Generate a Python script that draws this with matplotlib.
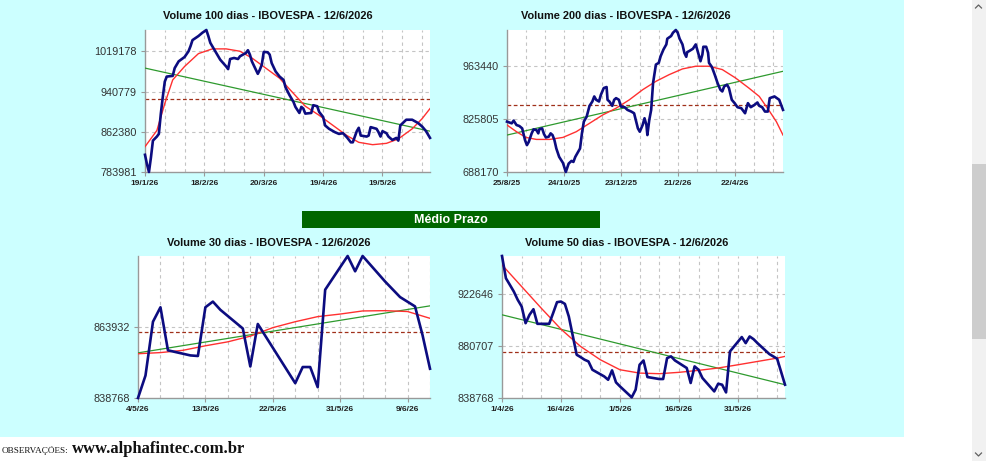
import matplotlib
matplotlib.use("Agg")
import matplotlib.pyplot as plt
from matplotlib.patches import Rectangle
from matplotlib.lines import Line2D
import numpy as np
import pandas as pd

W, H = 987, 461

# ---- data (values in thousands) ----
# Volume 100 dias
start_100 = "2026-01-19"
days_100 = [0, 1, 2, 3, 4, 6, 7, 8, 9, 10, 11, 14, 15, 17, 20, 22, 23, 24, 27, 29,
            31, 32, 33, 36, 38, 41, 42, 43, 45, 47, 48, 51, 52, 53, 54, 57, 58, 59, 60, 62,
            63, 64, 66, 68, 70, 71, 73, 75, 76, 78, 79, 80, 81, 84, 85, 87, 88, 90, 91, 93,
            96, 98, 100, 102, 104, 105, 107, 108, 109, 112, 113, 114, 117, 118, 119, 120, 122, 123, 125, 127,
            128, 129, 132, 135, 138, 140, 142, 144]
vol_100 = [817.5, 799.1, 784.0, 812.3, 845.1, 853.0, 858.2, 897.7, 930.5, 960.1,
           969.9, 971.2, 986.4, 999.5, 1008.0, 1019.2, 1029.1, 1040.9, 1048.8, 1055.3,
           1060.6, 1048.8, 1035.6, 1015.9, 1002.8, 989.6, 984.4, 1004.1, 1006.1, 1004.1,
           1009.4, 1015.9, 1021.2, 1012.6, 999.5, 975.2, 983.1, 992.9, 1017.9, 1017.2,
           1012.6, 996.2, 979.8, 969.9, 963.4, 948.9, 933.8, 920.7, 910.8, 899.0,
           910.8, 907.5, 897.7, 899.0, 914.1, 912.1, 901.0, 891.1, 874.7, 868.1,
           861.5, 858.2, 859.6, 851.7, 841.8, 841.8, 863.5, 870.1, 855.0, 853.0,
           855.0, 871.4, 868.1, 861.5, 853.0, 863.5, 859.6, 853.0, 846.4, 850.4,
           845.1, 874.7, 885.8, 885.8, 879.3, 872.7, 863.5, 850.4]
fit_days_100 = [0, 6, 10, 14, 20, 27, 34, 41, 48, 54, 61, 68, 75, 81, 88, 95, 102, 108, 115, 122, 128, 135, 140, 144]
fit_100 = [833.3, 864.8, 917.4, 963.4, 989.6, 1014.6, 1023.8, 1023.8, 1019.2, 1006.1, 986.4, 966.6,
           937.1, 912.1, 894.4, 874.7, 855.0, 841.8, 837.2, 839.8, 848.4, 868.1, 887.8, 907.5]
trend_100 = [986.4, 863.5]
mean_100 = 925.9
yticks_100 = [783981, 862380, 940779, 1019178]

# Volume 200 dias
start_200 = "2025-08-25"
days_200 = [0, 5, 7, 10, 13, 16, 19, 21, 23, 26, 28, 31, 33, 34, 37, 39, 41, 44, 46, 48,
            50, 52, 55, 59, 62, 65, 68, 70, 72, 75, 77, 79, 81, 84, 87, 90, 92, 94, 97, 99,
            102, 105, 106, 108, 111, 113, 115, 118, 120, 124, 127, 131, 134, 138, 140, 143, 145, 147, 148, 150,
            152, 154, 157, 160, 162, 165, 168, 169, 173, 175, 178, 180, 182, 185, 187, 189, 190, 192, 196, 199,
            201, 204, 206, 207, 210, 212, 213, 216, 219, 222, 225, 227, 229, 232, 234, 237, 240, 243, 247, 251,
            254, 257, 261, 264, 266, 269, 272, 275, 277, 282, 287, 291]
vol_200 = [818.8, 814.5, 821.5, 810.1, 807.5, 801.4, 770.9, 757.9, 766.6, 788.4,
           798.8, 797.1, 788.4, 798.8, 801.4, 786.6, 777.9, 779.7, 788.4, 784.0,
           770.9, 749.2, 727.4, 711.7, 688.2, 710.0, 716.9, 714.3, 727.4, 740.5,
           749.2, 788.4, 818.8, 831.9, 859.8, 871.1, 884.2, 875.5, 871.1, 888.5,
           906.0, 908.6, 875.5, 871.1, 859.8, 875.5, 879.8, 875.5, 858.0, 856.3,
           849.3, 845.0, 840.6, 801.4, 792.7, 810.1, 827.6, 810.1, 784.0, 823.2,
           849.3, 919.0, 966.9, 971.3, 988.7, 1006.1, 1019.2, 1034.0, 1040.9, 1049.6,
           1056.6, 1049.6, 1034.0, 1019.2, 997.4, 987.0, 999.2, 1001.8, 1007.9, 1019.2,
           1001.8, 975.6, 993.0, 1013.1, 1013.1, 997.4, 971.3, 960.8, 940.8, 919.0,
           901.6, 897.2, 910.3, 914.7, 906.0, 875.5, 866.8, 856.3, 853.7, 840.6,
           866.8, 856.3, 862.4, 868.5, 859.8, 856.3, 845.0, 845.0, 879.8, 884.2,
           875.5, 849.3]
fit_days_200 = [0, 10, 20, 31, 45, 59, 73, 87, 101, 115, 129, 143, 157, 171, 185, 199, 213, 227, 241, 255, 266, 277, 284, 291]
fit_200 = [810.1, 792.7, 777.9, 772.7, 772.7, 777.9, 792.7, 814.5, 836.3, 853.7, 875.5, 901.6,
           923.4, 940.8, 955.6, 962.6, 962.6, 953.9, 932.1, 906.0, 884.2, 845.0, 818.8, 784.0]
trend_200 = [784.0, 949.5]
mean_200 = 862.4
yticks_200 = [688170, 825805, 963440]

# Volume 30 dias
start_30 = "2026-05-04"
days_30 = [0, 1, 2, 3, 4, 7, 8, 9, 10, 11, 14, 15, 16, 21, 22, 23, 24, 25, 28, 29, 30, 33, 35, 37, 38, 39]
vol_30 = [838.77, 846.7, 865.7, 870.8, 855.6, 853.8, 853.6, 870.8, 872.8, 869.9,
          863.3, 849.9, 864.9, 844.0, 849.7, 849.7, 842.6, 877.0, 888.9, 883.5,
          888.9, 879.9, 874.4, 871.1, 861.0, 849.1]
fit_days_30 = [0, 3, 6, 9, 12, 15, 18, 21, 24, 27, 30, 33, 36, 39]
fit_30 = [854.4, 854.8, 855.6, 857.2, 858.6, 860.6, 863.6, 865.7, 867.5, 868.4, 869.5, 869.6, 869.3, 866.9]
trend_30 = [854.7, 871.3]
mean_30 = 862.2
yticks_30 = [838768, 863932]

# Volume 50 dias
start_50 = "2026-04-01"
days_50 = [0, 1, 2, 3, 4, 5, 6, 7, 8, 9, 12, 13, 14, 15, 16, 17, 19, 20, 21, 22,
           23, 26, 27, 28, 29, 30, 33, 34, 35, 36, 37, 40, 41, 42, 43, 44, 47, 48, 49, 50,
           51, 54, 55, 56, 57, 58, 61, 62, 63, 64, 65, 68, 69, 70, 72]
vol_50 = [953.5, 935.5, 930.2, 924.8, 918.1, 912.7, 899.2, 906.0, 910.5, 898.7,
          898.7, 907.3, 916.2, 916.7, 914.8, 904.6, 873.7, 871.8, 869.7, 868.3,
          861.6, 856.2, 853.5, 861.1, 851.4, 848.2, 839.3, 845.5, 865.6, 869.1,
          855.7, 854.1, 854.1, 871.0, 872.4, 869.1, 863.0, 850.9, 864.3, 861.6,
          854.9, 844.1, 850.3, 849.5, 843.3, 876.4, 888.0, 883.1, 888.5, 886.3,
          883.1, 874.3, 872.4, 870.5, 849.5]
fit_days_50 = [0, 5, 10, 15, 20, 25, 30, 35, 40, 45, 50, 55, 60, 65, 70, 72]
fit_50 = [946.3, 928.8, 911.3, 894.4, 880.4, 869.7, 861.6, 858.9, 858.4, 859.5, 861.1, 863.0,
          865.6, 868.3, 871.0, 872.4]
trend_50 = [906.0, 849.5]
mean_50 = 875.9
yticks_50 = [838768, 880707, 922646]

titles = ["Volume 100 dias - IBOVESPA - 12/6/2026", "Volume 200 dias - IBOVESPA - 12/6/2026",
          "Volume 30 dias - IBOVESPA - 12/6/2026", "Volume 50 dias - IBOVESPA - 12/6/2026"]

plt.rcParams["font.family"] = ["Liberation Sans", "DejaVu Sans"]

fig = plt.figure(figsize=(W / 100, H / 100), dpi=100, facecolor="white")
fig.patches.append(Rectangle((0, 1 - 437 / H), 904 / W, 437 / H, transform=fig.transFigure,
                             facecolor="#ccffff", edgecolor="none", zorder=-5))


def box(l, t, r, b):
    return [l / W, 1 - b / H, (r - l) / W, (b - t) / H]


def draw(rect, title, tpos, start, days, vol, fdays, fit, trend, mean, yticks, tick_step, grid_step):
    ax = fig.add_axes(box(*rect))
    ax.set_facecolor("white")
    span = days[-1]
    days = np.array(days)
    vol = np.array(vol) * 1000
    ax.set_xlim(0, span)
    ax.set_ylim(yticks[0], vol.max())
    for g in range(grid_step, span + 1, grid_step):
        ax.axvline(g, color="#c4c4c4", lw=0.8, ls=(0, (3, 3)), zorder=1)
    for yt in yticks[1:]:
        ax.axhline(yt, color="#c4c4c4", lw=0.8, ls=(0, (3, 3)), zorder=1)
    ax.axhline(mean * 1000, color="#a0301a", lw=0.9, ls=(0, (3, 2)), zorder=2)
    ax.plot([0, span], np.array(trend) * 1000, color="#2e9a2e", lw=0.9, zorder=3)
    ax.plot(fdays, np.array(fit) * 1000, color="#ff3030", lw=1.0, zorder=3)
    ax.plot(days, vol, color="#0c0c80", lw=1.9, zorder=4, solid_joinstyle="round", clip_on=False)
    xt = list(range(0, span + 1, tick_step))
    t0 = pd.Timestamp(start)
    labels = []
    for d in xt:
        dt = t0 + pd.Timedelta(days=d)
        labels.append(f"{dt.day}/{dt.month}/{dt.year % 100}")
    ax.set_xticks(xt)
    ax.set_xticklabels(labels, fontsize=6, fontweight="bold", color="#222222")
    ax.set_yticks(yticks)
    ax.set_yticklabels([str(v) for v in yticks], fontsize=7.8, color="#333333")
    ax.tick_params(length=3, width=0.8, color="#999999", pad=3)
    for s in ["top", "right"]:
        ax.spines[s].set_visible(False)
    for s in ["left", "bottom"]:
        ax.spines[s].set_color("#999999")
        ax.spines[s].set_linewidth(1.0)
    fig.text(tpos[0] / W, 1 - tpos[1] / H, title, ha="center", va="center",
             fontsize=7.9, fontweight="bold", color="#111111")
    return ax


draw((145, 30, 430, 172), titles[0], (268, 16), start_100, days_100, vol_100,
     fit_days_100, fit_100, trend_100, mean_100, yticks_100, 30, 10)
draw((507, 30, 783, 172), titles[1], (626, 16), start_200, days_200, vol_200,
     fit_days_200, fit_200, trend_200, mean_200, yticks_200, 60, 20)
draw((138, 256, 430, 398), titles[2], (269, 243), start_30, days_30, vol_30,
     fit_days_30, fit_30, trend_30, mean_30, yticks_30, 9, 3)
draw((502, 256, 785, 398), titles[3], (627, 243), start_50, days_50, vol_50,
     fit_days_50, fit_50, trend_50, mean_50, yticks_50, 15, 5)

# section bar
fig.patches.append(Rectangle((302 / W, 1 - 228 / H), 298 / W, 17 / H, transform=fig.transFigure,
                             facecolor="#006600", edgecolor="none", zorder=1))
fig.text(451 / W, 1 - 219.5 / H, "Médio Prazo", ha="center", va="center",
         fontsize=9, fontweight="bold", color="white")

# footer
fig.text(2 / W, 1 - 453 / H, "OBSERVAÇÕES:", ha="left", va="baseline",
         fontsize=6.6, family="Liberation Serif", color="#111111")
fig.text(72 / W, 1 - 453 / H, "www.alphafintec.com.br", ha="left", va="baseline",
         fontsize=12, fontweight="bold", family="Liberation Serif", color="#111111")

# scrollbar
fig.patches.append(Rectangle((972 / W, 0), 15 / W, 1, transform=fig.transFigure,
                             facecolor="#f1f1f1", edgecolor="none", zorder=1))
fig.patches.append(Rectangle((972 / W, 1 - 339 / H), 15 / W, 175 / H, transform=fig.transFigure,
                             facecolor="#cdcdcd", edgecolor="none", zorder=2))
fig.add_artist(Line2D([975.5 / W, 978.5 / W, 981.5 / W], [1 - 8 / H, 1 - 5 / H, 1 - 8 / H],
                      color="#606060", lw=0.9))
fig.add_artist(Line2D([975.5 / W, 978.5 / W, 981.5 / W], [1 - 453 / H, 1 - 456 / H, 1 - 453 / H],
                      color="#606060", lw=0.9))

fig.savefig("out.png", dpi=100, facecolor="white")
